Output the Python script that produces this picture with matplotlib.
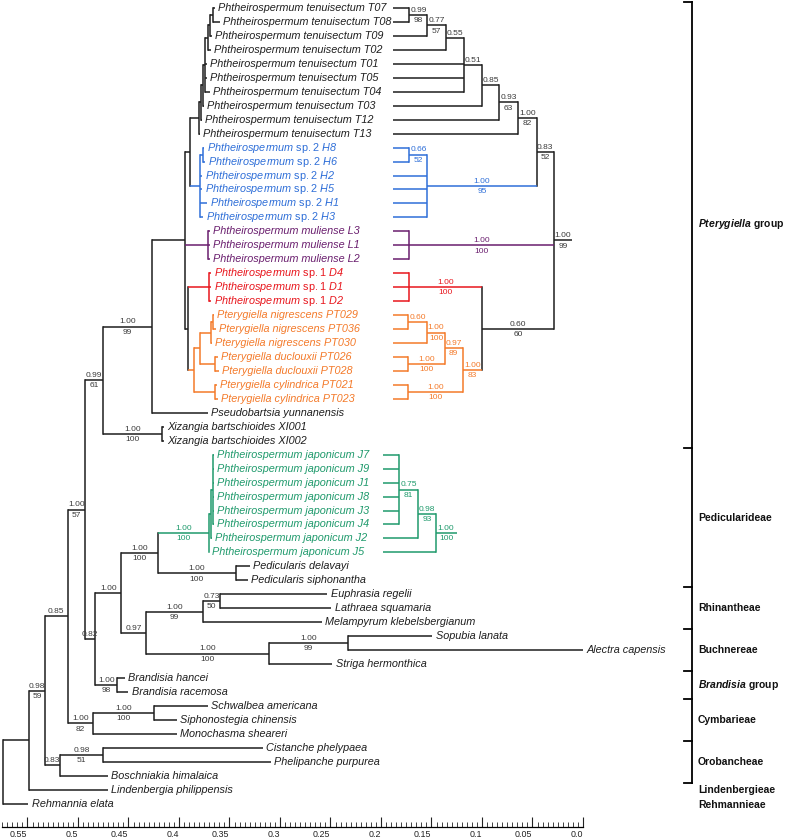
import matplotlib
matplotlib.use("Agg")
import matplotlib.pyplot as plt
from matplotlib.ticker import FixedLocator, FixedFormatter

plt.rcParams['font.family'] = ['Liberation Sans', 'DejaVu Sans']
plt.rcParams['mathtext.fontset'] = 'custom'
plt.rcParams['mathtext.rm'] = 'Liberation Sans'
plt.rcParams['mathtext.it'] = 'Liberation Sans:italic'
plt.rcParams['mathtext.bf'] = 'Liberation Sans:bold'
plt.rcParams['mathtext.bfit'] = 'Liberation Sans:italic:bold'

BLACK = '#1e1e1e'
LBL = '#3a3a3a'
BLUE = '#2f6fd8'
PURPLE = '#6a1e6e'
RED = '#e8161d'
ORANGE = '#f47a2a'
GREEN = '#1f9a6c'

# ---------------- data ----------------
tip_labels = [
    "Phtheirospermum tenuisectum T07", "Phtheirospermum tenuisectum T08",
    "Phtheirospermum tenuisectum T09", "Phtheirospermum tenuisectum T02",
    "Phtheirospermum tenuisectum T01", "Phtheirospermum tenuisectum T05",
    "Phtheirospermum tenuisectum T04", "Phtheirospermum tenuisectum T03",
    "Phtheirospermum tenuisectum T12", "Phtheirospermum tenuisectum T13",
    r"Phtheirospermum $\mathrm{sp.2}$ H8", r"Phtheirospermum $\mathrm{sp.2}$ H6",
    r"Phtheirospermum $\mathrm{sp.2}$ H2", r"Phtheirospermum $\mathrm{sp.2}$ H5",
    r"Phtheirospermum $\mathrm{sp.2}$ H1", r"Phtheirospermum $\mathrm{sp.2}$ H3",
    "Phtheirospermum muliense L3", "Phtheirospermum muliense L1",
    "Phtheirospermum muliense L2",
    r"Phtheirospermum $\mathrm{sp.1}$ D4", r"Phtheirospermum $\mathrm{sp.1}$ D1",
    r"Phtheirospermum $\mathrm{sp.1}$ D2",
    "Pterygiella nigrescens PT029", "Pterygiella nigrescens PT036",
    "Pterygiella nigrescens PT030", "Pterygiella duclouxii PT026",
    "Pterygiella duclouxii PT028", "Pterygiella cylindrica PT021",
    "Pterygiella cylindrica PT023",
    "Pseudobartsia yunnanensis",
    "Xizangia bartschioides XI001", "Xizangia bartschioides XI002",
    "Phtheirospermum japonicum J7", "Phtheirospermum japonicum J9",
    "Phtheirospermum japonicum J1", "Phtheirospermum japonicum J8",
    "Phtheirospermum japonicum J3", "Phtheirospermum japonicum J4",
    "Phtheirospermum japonicum J2", "Phtheirospermum japonicum J5",
    "Pedicularis delavayi", "Pedicularis siphonantha",
    "Euphrasia regelii", "Lathraea squamaria", "Melampyrum klebelsbergianum",
    "Sopubia lanata", "Alectra capensis", "Striga hermonthica",
    "Brandisia hancei", "Brandisia racemosa",
    "Schwalbea americana", "Siphonostegia chinensis", "Monochasma sheareri",
    "Cistanche phelypaea", "Phelipanche purpurea", "Boschniakia himalaica",
    "Lindenbergia philippensis", "Rehmannia elata",
]

# tip positions (axis units, phylogram on the left)
tip_end = [
    0.364, 0.359, 0.367, 0.368, 0.372, 0.372, 0.369, 0.375, 0.377, 0.379,
    0.375, 0.374, 0.377, 0.377, 0.372, 0.376,
    0.369, 0.369, 0.369,
    0.368, 0.368, 0.368,
    0.365, 0.363, 0.367, 0.361, 0.360, 0.362, 0.361,
    0.371,
    0.415, 0.415,
    0.365, 0.365, 0.365, 0.365, 0.365, 0.365, 0.367, 0.370,
    0.330, 0.332,
    0.253, 0.249, 0.258,
    0.149, 0.000, 0.248,
    0.453, 0.450,
    0.371, 0.402, 0.402,
    0.317, 0.309, 0.470,
    0.470, 0.549,
]

tip_colors = ([BLACK] * 10 + [BLUE] * 6 + [PURPLE] * 3 + [RED] * 3 +
              [ORANGE] * 7 + [BLACK] * 3 + [GREEN] * 8 + [BLACK] * 18)


def nd(x, kids, sup=(None, None), c=BLACK):
    return {'x': x, 'kids': kids, 'sup': sup, 'c': c}


# ---- left phylogram ----
Tn099 = nd(0.366, [0, 1])
Tn077 = nd(0.369, [Tn099, 2])
Tn055 = nd(0.371, [Tn077, 3])
Tn051 = nd(0.374, [Tn055, 4, 5, 6])
Tn085 = nd(0.376, [Tn051, 7])
Tn093 = nd(0.378, [Tn085, 8])
Tn100 = nd(0.380, [Tn093, 9])
Hs = nd(0.376, [10, 11], c=BLUE)
Hn = nd(0.379, [Hs, 12, 13, 14, 15], c=BLUE)
TH = nd(0.389, [Tn100, Hn])
Ln = nd(0.371, [16, 17, 18], c=PURPLE)
Dn = nd(0.370, [19, 20, 21], c=RED)
PTd = nd(0.366, [22, 23], c=ORANGE)
PTc = nd(0.368, [PTd, 24], c=ORANGE)
Duc = nd(0.364, [25, 26], c=ORANGE)
PTb = nd(0.379, [PTc, Duc], c=ORANGE)
Cyl = nd(0.364, [27, 28], c=ORANGE)
PTn = nd(0.385, [PTb, Cyl], c=ORANGE)
DPT = nd(0.391, [Dn, PTn])
G = nd(0.394, [TH, Ln, DPT])
F = nd(0.427, [G, 29], ('1.00', '99'))
Xiz = nd(0.417, [30, 31], ('1.00', '100'))
E = nd(0.475, [F, Xiz], ('0.99', '61'))
J6 = nd(0.366, [32, 33, 34, 35, 36, 37], c=GREEN)
Js = nd(0.368, [J6, 38], c=GREEN)
Jc = nd(0.370, [Js, 39], ('1.00', '100'), GREEN)
Ped = nd(0.344, [40, 41], ('1.00', '100'))
Jn = nd(0.421, [Jc, Ped], ('1.00', '100'))
EL = nd(0.359, [42, 43], ('0.73', '50'))
Rh = nd(0.376, [EL, 44], ('1.00', '99'))
SA = nd(0.233, [45, 46], ('1.00', '99'))
Bu = nd(0.311, [SA, 47], ('1.00', '100'))
K = nd(0.433, [Rh, Bu], ('0.97', None))
I = nd(0.457, [Jn, K], ('1.00', None))
Bra = nd(0.461, [48, 49], ('1.00', '98'))
H = nd(0.483, [I, Bra], ('0.82', None))
D = nd(0.493, [E, H], ('1.00', '57'))
SS = nd(0.425, [50, 51], ('1.00', '100'))
Cym = nd(0.485, [SS, 52], ('1.00', '82'))
C = nd(0.510, [D, Cym], ('0.85', None))
CP = nd(0.475, [53, 54], ('0.98', '51'))
Oro = nd(0.518, [CP, 55], ('0.83', None))
B = nd(0.533, [C, Oro], ('0.98', '59'))
A = nd(0.548, [B, 56])
left_root = nd(0.574, [A, 57])

# ---- right cladogram: Pterygiella group ----
Rn099 = nd(0.172, [0, 1], ('0.99', '98'))
Rn077 = nd(0.154, [Rn099, 2], ('0.77', '57'))
Rn055 = nd(0.136, [Rn077, 3], ('0.55', None))
Rn051 = nd(0.118, [Rn055, 4, 5, 6], ('0.51', None))
Rn085 = nd(0.100, [Rn051, 7], ('0.85', None))
Rn093 = nd(0.083, [Rn085, 8], ('0.93', '63'))
Rn100 = nd(0.064, [Rn093, 9], ('1.00', '82'))
RHs = nd(0.172, [10, 11], ('0.66', '52'), BLUE)
RH = nd(0.154, [RHs, 12, 13, 14, 15], ('1.00', '95'), BLUE)
Rn083 = nd(0.046, [Rn100, RH], ('0.83', '52'))
RL = nd(0.172, [16, 17, 18], ('1.00', '100'), PURPLE)
RD = nd(0.172, [19, 20, 21], ('1.00', '100'), RED)
RPTd = nd(0.173, [22, 23], ('0.60', None), ORANGE)
RPTc = nd(0.154, [RPTd, 24], ('1.00', '100'), ORANGE)
Rduc = nd(0.173, [25, 26], ('1.00', '100'), ORANGE)
RPTb = nd(0.137, [RPTc, Rduc], ('0.97', '89'), ORANGE)
Rcyl = nd(0.173, [27, 28], ('1.00', '100'), ORANGE)
RPT = nd(0.119, [RPTb, Rcyl], ('1.00', '83'), ORANGE)
Rn060 = nd(0.100, [RD, RPT], ('0.60', '60'))
right_root = nd(0.029, [Rn083, RL, Rn060], ('1.00', '99'))
right_tip_x = 0.188
right_stub = 0.011

# ---- right cladogram: P. japonicum ----
RJ6 = nd(0.182, [32, 33, 34, 35, 36, 37], ('0.75', '81'), GREEN)
RJs = nd(0.163, [RJ6, 38], ('0.98', '93'), GREEN)
RJ = nd(0.146, [RJs, 39], ('1.00', '100'), GREEN)
j_tip_x = 0.198
j_stub = 0.125

# tribes / groups bracket
group_breaks = [-0.45, 31.5, 41.5, 44.5, 47.5, 49.5, 52.5, 55.5]
group_names = [r"$\mathbfit{Pterygiella}$ group", "Pedicularideae", "Rhinantheae",
               "Buchnereae", r"$\mathbfit{Brandisia}$ group", "Cymbarieae",
               "Orobancheae", "Lindenbergieae", "Rehmannieae"]
group_rows = [15.5, 36.5, 43.0, 46.0, 48.5, 51.0, 54.0, 56.0, 57.1]

axis_major = [0.55, 0.5, 0.45, 0.4, 0.35, 0.3, 0.25, 0.2, 0.15, 0.1, 0.05, 0.0]
axis_labels = ["0.55", "0.5", "0.45", "0.4", "0.35", "0.3", "0.25", "0.2",
               "0.15", "0.1", "0.05", "0.0"]

# ---------------- drawing ----------------
W, Hh = 787, 838
fig = plt.figure(figsize=(W / 100, Hh / 100), dpi=100)
ax = fig.add_axes([0, 0, 1, 1])
ax.set_xlim(0.5772, -0.2020)
ax.set_ylim(59.46, -0.573)
ax.axis('off')

LW = 1.1
SUPFS = 6.0


def layout(node):
    ys = []
    for k in node['kids']:
        if isinstance(k, int):
            ys.append(float(k))
        else:
            ys.append(layout(k))
    node['ys'] = ys
    node['y'] = (ys[0] + ys[-1]) / 2.0
    return node['y']


def support(x0, x1, y, sup, color):
    xm = (x0 + x1) / 2.0
    top, bot = sup
    if top:
        ax.annotate(top, (xm, y), xytext=(0, 0.8), textcoords='offset points',
                    ha='center', va='bottom', fontsize=SUPFS, color=color)
    if bot:
        ax.annotate(bot, (xm, y), xytext=(0, -1.6), textcoords='offset points',
                    ha='center', va='top', fontsize=SUPFS, color=color)


def draw(node, parent_x, tipx):
    x, y, c = node['x'], node['y'], node['c']
    if parent_x is not None:
        ax.plot([parent_x, x], [y, y], color=c, lw=LW, solid_capstyle='butt')
        lc = LBL if c == BLACK else c
        support(parent_x, x, y, node['sup'], lc)
    ys = node['ys']
    ax.plot([x, x], [min(ys), max(ys)], color=c, lw=LW, solid_capstyle='projecting')
    for k in node['kids']:
        if isinstance(k, int):
            tx = tip_end[k] if tipx is None else tipx
            ax.plot([x, tx], [k, k], color=(tip_colors[k] if c != BLACK else BLACK),
                    lw=LW, solid_capstyle='butt')
        else:
            draw(k, x, tipx)


for root in (left_root, right_root, RJ):
    layout(root)

draw(left_root, None, None)
draw(right_root, right_stub, right_tip_x)
draw(RJ, j_stub, j_tip_x)

# tip labels
for i, name in enumerate(tip_labels):
    ax.annotate(name, (tip_end[i], i), xytext=(2.2, 0), textcoords='offset points',
                ha='left', va='center', fontsize=7.8, style='italic',
                color=tip_colors[i])

# group bracket
bx, tx0 = -0.108, -0.100
ax.plot([bx, bx], [group_breaks[0], group_breaks[-1]], color='black', lw=1.3)
for b in group_breaks:
    ax.plot([tx0, bx], [b, b], color='black', lw=1.3)
for name, r in zip(group_names, group_rows):
    ax.text(-0.114, r, name, ha='left', va='center', fontsize=7.5,
            fontweight='bold', color='#111111')

# scale axis
ax2 = fig.add_axes([0, (Hh - 827) / Hh, 1, 0.0001])
ax2.set_xlim(0.5772, -0.2020)
for s in ('left', 'right', 'top'):
    ax2.spines[s].set_visible(False)
ax2.spines['bottom'].set_bounds(0.0, 0.575)
ax2.spines['bottom'].set_linewidth(0.9)
ax2.yaxis.set_visible(False)
ax2.xaxis.set_major_locator(FixedLocator(axis_major))
ax2.xaxis.set_major_formatter(FixedFormatter(axis_labels))
ax2.xaxis.set_minor_locator(FixedLocator([i * 0.005 for i in range(0, 116)]))
ax2.tick_params(axis='x', which='major', direction='in', length=7.2, width=0.8,
                labelsize=6.4, pad=2.5, colors='#222222')
ax2.tick_params(axis='x', which='minor', direction='in', length=3.6, width=0.6,
                colors='#222222')
for lab in ax2.get_xticklabels():
    lab.set_horizontalalignment('right')

fig.savefig('out.png', dpi=100)
